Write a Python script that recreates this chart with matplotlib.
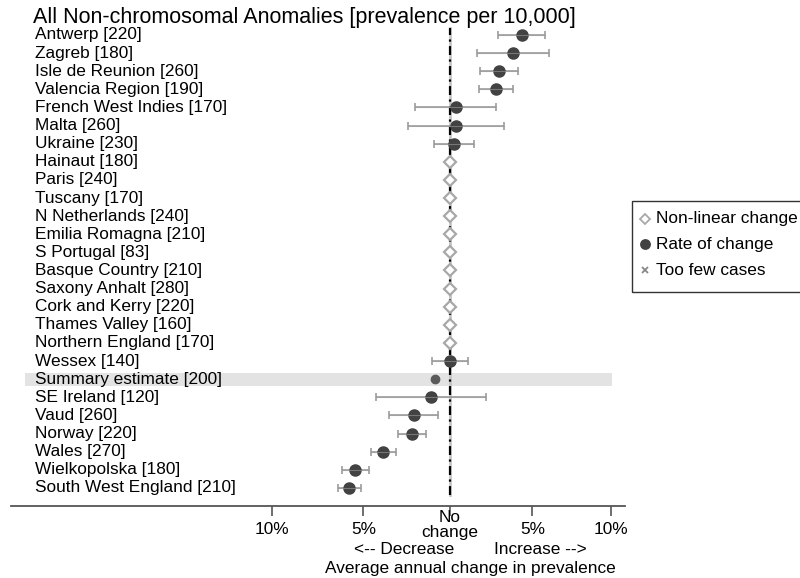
import numpy as np
import matplotlib
matplotlib.use("Agg")
from matplotlib import pyplot as plt
from matplotlib.lines import Line2D
from matplotlib.patches import Rectangle

plt.rcParams['font.family'] = ['Liberation Sans', 'DejaVu Sans']

# registries, top to bottom
labels = ["Antwerp [220]", "Zagreb [180]", "Isle de Reunion [260]", "Valencia Region [190]",
          "French West Indies [170]", "Malta [260]", "Ukraine [230]", "Hainaut [180]",
          "Paris [240]", "Tuscany [170]", "N Netherlands [240]", "Emilia Romagna [210]",
          "S Portugal [83]", "Basque Country [210]", "Saxony Anhalt [280]", "Cork and Kerry [220]",
          "Thames Valley [160]", "Northern England [170]", "Wessex [140]", "Summary estimate [200]",
          "SE Ireland [120]", "Vaud [260]", "Norway [220]", "Wales [270]",
          "Wielkopolska [180]", "South West England [210]"]
# 'r' = rate of change, 'n' = non-linear change, 's' = summary
kind = ["r", "r", "r", "r", "r", "r", "r", "n", "n", "n", "n", "n", "n", "n", "n", "n",
        "n", "n", "r", "s", "r", "r", "r", "r", "r", "r"]
# average annual change, percent
est = [4.33, 3.80, 2.92, 2.78, 0.36, 0.36, 0.24, 0, 0, 0, 0, 0, 0, 0, 0, 0,
       0, 0, 0.0, -0.88, -1.13, -2.12, -2.22, -3.87, -5.45, -5.80]
lo = [2.86, 1.59, 1.77, 1.75, -2.03, -2.47, -0.92, np.nan, np.nan, np.nan, np.nan, np.nan,
      np.nan, np.nan, np.nan, np.nan, np.nan, np.nan, -1.04, -0.95, -4.29, -3.55, -3.05,
      -4.55, -6.21, -6.43]
hi = [5.80, 6.05, 4.09, 3.82, 2.78, 3.25, 1.41, np.nan, np.nan, np.nan, np.nan, np.nan,
      np.nan, np.nan, np.nan, np.nan, np.nan, np.nan, 1.05, -0.81, 2.14, -0.69, -1.41,
      -3.16, -4.68, -5.15]
tick_pct = [-10, -5, 0, 5, 10]
tick_text = ["10%", "5%", "No\nchange", "5%", "10%"]

def tr(p):
    return np.log(1 + np.asarray(p, dtype=float) / 100.0)

W, H = 800, 578
FS = 12.4
fig = plt.figure(figsize=(8, 5.78), dpi=100)
# axes: x line from px 11 to 625, bottom at px 506
ax = fig.add_axes([11 / W, (H - 506) / H, 614 / W, 506 / H])
k = 1690.0
ax.set_xlim((11 - 450) / k, (625 - 450) / k)
y_top = -35 / 18.12
ax.set_ylim(26.0, y_top)

n = len(labels)
rows = np.arange(n)
est_t, lo_t, hi_t = tr(est), tr(lo), tr(hi)

# summary band
ax.axhspan(19 - 0.36, 19 + 0.36, xmin=14 / 614, xmax=601 / 614, color="#e3e3e3", lw=0, zorder=0)

# no-change reference line
ax.axvline(0, ymin=11 / 506, ymax=478 / 506, color="#c4c4c4", lw=2.0, zorder=1)
ax.axvline(0, ymin=11 / 506, ymax=478 / 506, color="black", lw=1.6,
           dashes=(4, 2, 1, 2), zorder=2)

for i in rows:
    if kind[i] == "n":
        ax.plot(est_t[i], i, marker="D", ms=6.5, mfc="white", mec="#a8a8a8", mew=1.6, zorder=4)
    elif kind[i] == "r":
        ax.errorbar(est_t[i], i, xerr=[[est_t[i] - lo_t[i]], [hi_t[i] - est_t[i]]],
                    fmt="none", ecolor="#9c9c9c", elinewidth=1.2, capsize=2.6, capthick=1.2, zorder=3)
        ax.plot(est_t[i], i, "o", ms=8, color="#424242", zorder=5)
        ax.plot([lo_t[i], hi_t[i]], [i, i], color="#9c9c9c", lw=0.8, alpha=0.6, zorder=6)
    else:
        ax.plot(est_t[i], i, "o", ms=6, color="#5a5a5a", zorder=5)

for i in rows:
    ax.text(24 / 614, i, labels[i], transform=ax.get_yaxis_transform(), fontsize=FS,
            va="center", ha="left")

for s in ["top", "right", "left"]:
    ax.spines[s].set_visible(False)
ax.spines["bottom"].set_color("#555555")
ax.spines["bottom"].set_linewidth(1.3)
ax.set_yticks([])
ax.set_xticks(tr(tick_pct))
ax.set_xticklabels([])
ax.tick_params(axis="x", direction="out", length=7, width=1.2, color="#555555")

xt = ax.get_xaxis_transform()
for p, t in zip(tr(tick_pct), tick_text):
    yy = (506 - 525) / 506 if "No" in t else (506 - 529) / 506
    ax.text(p, yy, t, transform=xt, ha="center", va="center", fontsize=FS,
            linespacing=0.95, clip_on=False)

fig.text(404 / W, 1 - 550 / H, "<-- Decrease", ha="center", va="center", fontsize=FS)
fig.text(540 / W, 1 - 550 / H, "Increase -->", ha="center", va="center", fontsize=FS)
fig.text(470 / W, 1 - 568 / H, "Average annual change in prevalence", ha="center",
         va="center", fontsize=FS)

fig.text(33 / W, 1 - 18 / H, "All Non-chromosomal Anomalies [prevalence per 10,000]",
         ha="left", va="center", fontsize=15.5)

# legend
fig.add_artist(Rectangle((632 / W, 1 - 292 / H), 250 / W, 91 / H, transform=fig.transFigure,
                         fill=False, ec="#333333", lw=1.0))
leg_items = [("D", "white", "#a8a8a8", 5, "Non-linear change", 219),
             ("o", "#424242", "#424242", 6.5, "Rate of change", 244),
             ("x", "#888888", "#888888", 4.5, "Too few cases", 270)]
for m, fc, ec, ms, txt, yp in leg_items:
    fig.add_artist(Line2D([645 / W], [1 - yp / H], transform=fig.transFigure, marker=m,
                          ms=ms, mfc=fc, mec=ec, mew=1.3, ls="none"))
    fig.text(656 / W, 1 - yp / H, txt, ha="left", va="center", fontsize=FS)

fig.savefig("out.png", dpi=100)
